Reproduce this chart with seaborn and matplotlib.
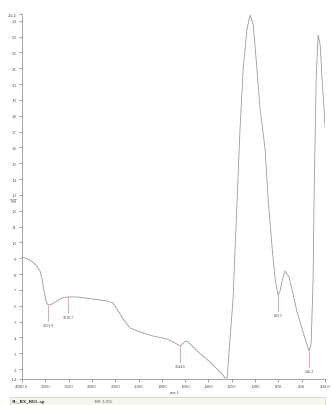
import numpy as np
import pandas as pd
import seaborn as sns
import matplotlib
matplotlib.use('Agg')
import matplotlib.pyplot as plt
from matplotlib.patches import Rectangle

# spectrum (wavenumber cm-1, %T)
wavenumber = [4000, 3863, 3760, 3691, 3657, 3622, 3588, 3554, 3485, 3399, 3313, 3210,
              3056, 2781, 2541, 2438, 2369, 2266, 2146, 1987, 1876, 1755, 1686, 1644,
              1609, 1584, 1549, 1498, 1386, 1283, 1257, 1240, 1215, 1189, 1154, 1129,
              1102, 1069, 1043, 1017, 991, 957, 914, 888, 853, 828, 803, 785, 768, 743,
              708, 674, 640, 596, 571, 536, 519, 502, 494, 485, 476, 459, 442, 425, 408, 400]
transmittance = [9.08, 8.89, 8.57, 8.19, 7.69, 6.93, 6.30, 6.04, 6.10, 6.30, 6.49, 6.55,
                 6.55, 6.42, 6.30, 6.17, 5.79, 5.16, 4.59, 4.34, 4.08, 3.90, 3.64, 3.45,
                 3.70, 3.77, 3.52, 3.14, 2.44, 1.68, 1.43, 1.43, 3.90, 6.42, 12.7, 17.17,
                 20.96, 23.5, 24.36, 23.8, 21.58, 18.42, 15.89, 12.73, 9.58, 7.68, 6.67, 6.93, 7.56, 8.19,
                 7.81, 6.74, 5.60, 4.53, 3.90, 3.14, 3.58, 7.69, 12.7, 16.5, 20.3, 23.1, 22.5, 20.3, 18.4, 17.3]

peak_x = [3554, 3210, 1644, 803, 536]
peak_y = [6.04, 6.55, 3.45, 6.67, 3.14]
peak_labels = ['3553.9', '3210.7', '1644.6', '802.5', '536.2']

xticks = [4000, 3600, 3200, 2800, 2400, 2000, 1800, 1600, 1400, 1200, 1000, 800, 600, 400]
xticklabels = ['4000.0', '3600', '3200', '2800', '2400', '2000', '1800', '1600', '1400',
               '1200', '1000', '800', '600', '400.0']
yticks = [1.4] + list(range(2, 25)) + [24.4]
yticklabels = ['1.4'] + [str(v) for v in range(2, 25)] + ['24.4']

df = pd.DataFrame({'cm-1': wavenumber, '%T': transmittance})

sns.set_style('ticks')
plt.rcParams['font.family'] = ['Liberation Serif', 'DejaVu Sans']

fig = plt.figure(figsize=(3.32, 4.06), dpi=100)
ax = fig.add_axes([22/332, 1 - 379.5/406, 303/332, (379.5 - 15.4)/406])

sns.lineplot(data=df, x='cm-1', y='%T', ax=ax, color='#9a9a9a', linewidth=0.6, sort=False)


# spectrometer style axis: 400 per division above 2000, 200 below
def fwd(w):
    w = np.asarray(w, dtype=float)
    return np.where(w >= 2000, (w - 2000) / 400.0, (w - 2000) / 200.0)


def inv(u):
    u = np.asarray(u, dtype=float)
    return np.where(u >= 0, 2000 + 400.0 * u, 2000 + 200.0 * u)


ax.set_xscale('function', functions=(fwd, inv))
ax.set_xlim(4000, 400)
ax.set_ylim(1.4, 24.4)
ax.set_xticks(xticks)
ax.set_xticklabels(xticklabels)
ax.set_yticks(yticks)
ax.set_yticklabels(yticklabels)
ax.minorticks_off()
ax.tick_params(labelsize=3.5, length=2, width=0.4, colors='#555555', pad=2)
for s in ['left', 'bottom']:
    ax.spines[s].set_color('#999999')
    ax.spines[s].set_linewidth(0.6)
for s in ['top', 'right']:
    ax.spines[s].set_visible(False)
ax.set_xlabel('')
ax.set_ylabel('')

for px, py, lab in zip(peak_x, peak_y, peak_labels):
    ax.plot([px, px], [py, py - 1.0], color='#f08080', linewidth=0.5)
    ax.text(px, py - 1.15, lab, fontsize=3, ha='center', va='top', color='#444444')

fig.text(14/332, 1 - 202/406, '%T', fontsize=4, ha='center', va='center', color='#444444')
fig.text(175/332, 1 - 393/406, 'cm-1', fontsize=3.5, ha='center', va='center', color='#444444')

fig.patches.append(Rectangle((10/332, 0), 315/332, 8/406, transform=fig.transFigure,
                             facecolor='#f6f6ef', edgecolor='#cccccc', linewidth=0.5))
fig.text(12/332, 4/406, 'SL_BX_BEL.sp', fontsize=3.5, fontweight='bold', va='center', color='#222222')
fig.text(95/332, 4/406, 'RF 3.5%', fontsize=3.5, va='center', color='#444444')

fig.savefig('out.png', dpi=100)
